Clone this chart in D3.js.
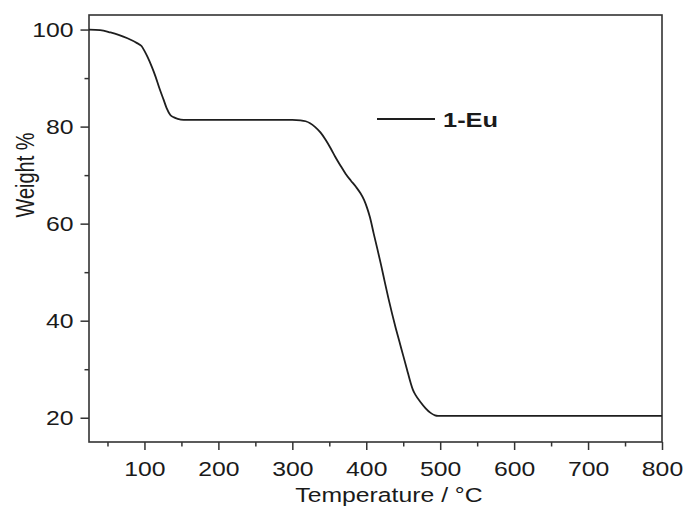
<!DOCTYPE html>
<html>
<head>
<meta charset="utf-8">
<script src="https://cdn.jsdelivr.net/npm/d3@7"></script>
<style>
  html, body { margin: 0; padding: 0; background: #fff; }
  svg { display: block; }
  text { font-family: "Liberation Sans", Arial, sans-serif; fill: #1a1a1a; }
</style>
</head>
<body>
<svg id="chart" width="689" height="513"></svg>
<script>
// TGA curve of 1-Eu: temperature (°C) and remaining weight (%)
const temperature = [25, 40, 54, 65, 77, 90, 96, 100, 104, 110, 115, 120, 126, 130, 135, 140, 145, 153,
  200, 250, 300, 311, 318, 324, 331, 338, 345, 352, 358, 365, 372, 379, 386, 392, 397, 401, 405,
  410, 415, 420, 425, 430, 435, 440, 445, 450, 455, 460, 463, 467, 473, 480, 487, 493, 497, 600, 700, 800];
const weight = [100.0, 99.9, 99.4, 98.9, 98.2, 97.2, 96.6, 95.6, 94.4, 92.3, 90.3, 88.0, 85.5, 83.8, 82.4, 81.9, 81.6, 81.4,
  81.4, 81.4, 81.4, 81.3, 81.1, 80.7, 79.9, 78.8, 77.3, 75.5, 73.8, 72.0, 70.3, 68.9, 67.6, 66.3, 64.9, 63.3, 61.3,
  58.0, 54.8, 51.5, 48.0, 44.6, 41.4, 38.4, 35.6, 32.8, 30.0, 27.2, 25.8, 24.6, 23.3, 22.0, 21.0, 20.5, 20.4, 20.4, 20.4, 20.4];

const seriesName = "1-Eu";
const xMajorTicks = [100, 200, 300, 400, 500, 600, 700, 800];
const xMinorTicks = [50, 150, 250, 350, 450, 550, 650, 750];
const yMajorTicks = [20, 40, 60, 80, 100];
const yMinorTicks = [30, 50, 70, 90];
const xTitle = "Temperature / °C";
const yTitle = "Weight %";

const plot = { left: 89, top: 15, right: 662, bottom: 442 };
const stretch = 1.27;   // wide lettering
const fontSize = 19.5;

const svg = d3.select("#chart");

const x = d3.scaleLinear().domain([25, 800]).range([plot.left, plot.right]);
const y = d3.scaleLinear().domain([15, 103]).range([plot.bottom, plot.top]);

const axisColor = "#333";

// bottom axis: minor ticks, then major ticks with labels
const gxMinor = svg.append("g").attr("transform", `translate(0,${plot.bottom})`)
  .call(d3.axisBottom(x).tickValues(xMinorTicks).tickSize(4.5).tickFormat(""));
const gx = svg.append("g").attr("transform", `translate(0,${plot.bottom})`)
  .call(d3.axisBottom(x).tickValues(xMajorTicks).tickSize(8).tickFormat(d3.format("d")));

// left axis
const gyMinor = svg.append("g").attr("transform", `translate(${plot.left},0)`)
  .call(d3.axisLeft(y).tickValues(yMinorTicks).tickSize(4.5).tickFormat(""));
const gy = svg.append("g").attr("transform", `translate(${plot.left},0)`)
  .call(d3.axisLeft(y).tickValues(yMajorTicks).tickSize(8.5).tickFormat(d3.format("d")));

[gxMinor, gx, gyMinor, gy].forEach(g => {
  g.select(".domain").remove();
  g.selectAll(".tick line").attr("stroke", axisColor).attr("stroke-width", 1.5);
});

gx.selectAll(".tick text")
  .attr("y", 34).attr("dy", 0)
  .attr("transform", `scale(${stretch},1)`)
  .style("font-size", fontSize + "px")
  .attr("fill", "#1a1a1a");

gy.selectAll(".tick text")
  .attr("x", -15.4 / stretch).attr("dy", "0.35em")
  .attr("transform", `scale(${stretch},1)`)
  .style("font-size", fontSize + "px")
  .attr("fill", "#1a1a1a");

// frame
svg.append("rect")
  .attr("x", plot.left).attr("y", plot.top)
  .attr("width", plot.right - plot.left).attr("height", plot.bottom - plot.top)
  .attr("fill", "none").attr("stroke", axisColor).attr("stroke-width", 1.6);

// curve
const data = temperature.map((t, i) => ({ t, w: weight[i] }));
const line = d3.line().x(d => x(d.t)).y(d => y(d.w)).curve(d3.curveMonotoneX);
svg.append("path").datum(data)
  .attr("d", line)
  .attr("fill", "none").attr("stroke", "#1e1e1e").attr("stroke-width", 1.8)
  .attr("stroke-linejoin", "round");

// legend
svg.append("line")
  .attr("x1", 377).attr("x2", 435).attr("y1", 119).attr("y2", 119)
  .attr("stroke", "#1e1e1e").attr("stroke-width", 1.8);
svg.append("text")
  .attr("transform", `translate(443,127) scale(${stretch},1)`)
  .style("font-size", "20px").style("font-weight", "bold")
  .text(seriesName);

// axis titles
svg.append("text")
  .attr("transform", `translate(389,502) scale(${stretch},1)`)
  .attr("text-anchor", "middle")
  .style("font-size", fontSize + "px")
  .text(xTitle);

svg.append("text")
  .attr("transform", `translate(34,175) scale(${stretch},1) rotate(-90)`)
  .attr("text-anchor", "middle")
  .style("font-size", "20px")
  .text(yTitle);
</script>
</body>
</html>
